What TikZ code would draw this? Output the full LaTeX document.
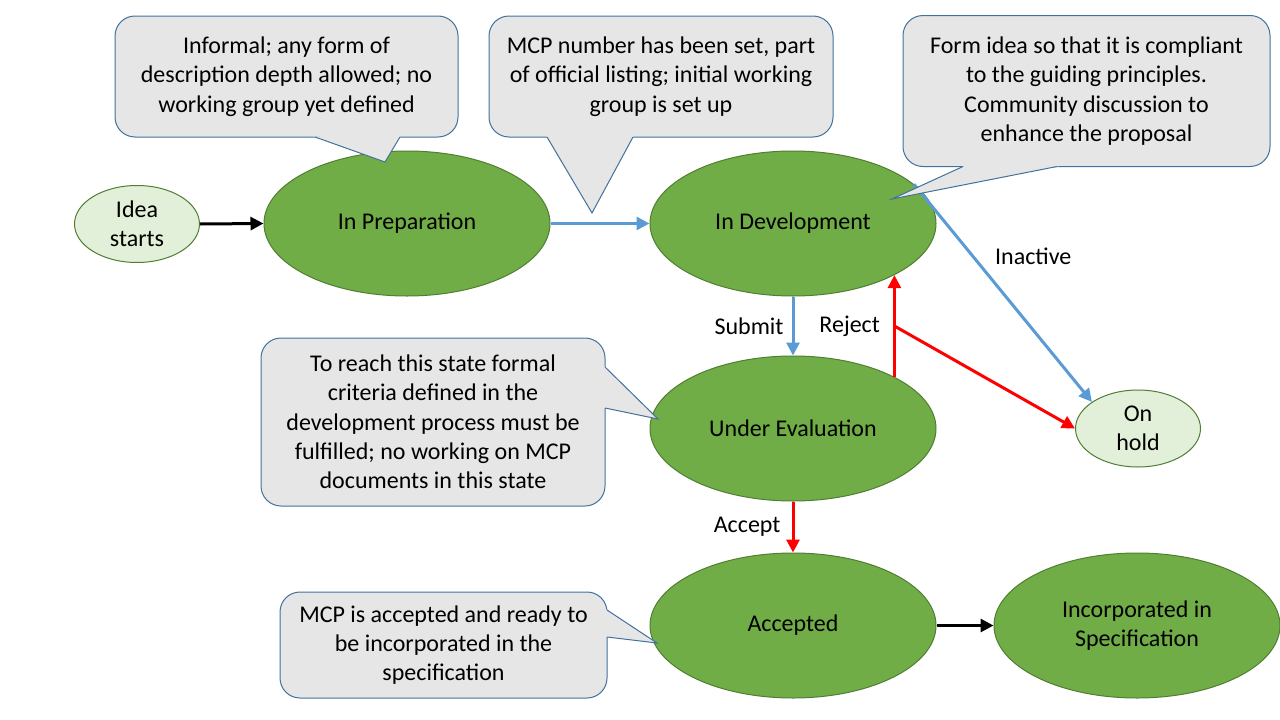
\documentclass[tikz,border=0pt]{standalone}
\usepackage{fontspec}
\setmainfont{Carlito}
\usetikzlibrary{shapes.geometric,arrows.meta,calc}

\definecolor{stategreen}{HTML}{70AD47}
\definecolor{stateline}{HTML}{507E32}
\definecolor{holdgreen}{HTML}{E2F0D9}
\definecolor{notegray}{HTML}{E7E6E6}
\definecolor{noteline}{HTML}{41719C}
\definecolor{flowblue}{HTML}{5B9BD5}
\definecolor{flowred}{HTML}{FF0000}

\tikzset{
    state/.style={ellipse, draw=stateline, fill=stategreen, line width=1pt,
            minimum width=286pt, minimum height=145pt, inner sep=0pt, align=center},
    smallstate/.style={state, fill=holdgreen, minimum width=125pt, minimum height=77pt},
    note/.style={rectangle, rounded corners=20pt, draw=noteline, fill=notegray,
            line width=1pt, inner sep=0pt, align=center},
    flow/.style={line width=3pt, -{Triangle[length=13pt,width=13pt]}},
    lbl/.style={inner sep=0pt},
}

\newcommand{\notetail}[3]{%
    \fill[notegray] ($#1!-2pt!#3$) -- #3 -- ($#2!-2pt!#3$) -- cycle;
    \draw[noteline, line width=1pt] #1 -- #3 -- #2;
}

\begin{document}
\begin{tikzpicture}[x=1pt, y=-1pt, font=\fontsize{24}{29.3}\selectfont]
            \useasboundingbox (0,0) rectangle (1280,720);

            % states
            \node[smallstate] (idea) at (137,224) {Idea\\starts};
            \node[state] (prep) at (407,223.5) {In Preparation};
            \node[state] (dev) at (793,223.5) {In Development};
            \node[state] (eval) at (793,428.5) {Under Evaluation};
            \node[state] (acc) at (793,625.5) {Accepted};
            \node[state] (spec) at (1137,625.5) {Incorporated in\\Specification};
            \node[smallstate] (hold) at (1138,428.5) {On\\hold};

            % transitions
            \draw[flow] (idea.east) -- (prep.west);
            \draw[flow, flowblue] (prep.east) -- (dev.west);
            \draw[flow, flowblue] (dev.south) -- (eval.north)
                node[lbl, midway, left=8pt, black] {Submit};
            \draw[flow, flowblue] (dev.18) -- (hold.150)
                node[lbl, pos=0.33, right=21pt, black] {Inactive};
            \coordinate (rj) at ($(eval.27.4)!0.5!(dev.-27.4)$);
            \draw[flow, flowred] (eval.27.4) -- (dev.-27.4)
                node[lbl, midway, left=13pt, black] {Reject};
            \draw[flow, flowred] (rj) -- (hold.west);
            \draw[flow, flowred] (eval.south) -- (acc.north)
                node[lbl, midway, left=11pt, black] {Accept};
            \draw[flow] (acc.east) -- (spec.west);

            % notes
            \node[note, minimum width=343pt, minimum height=121pt] (prepnote) at (286.5,76.5)
                {Informal; any form of\\description depth allowed; no\\working group yet defined};
            \notetail{(315,137)}{(400,137)}{(385,162)}
            \node[note, minimum width=344pt, minimum height=121pt] (devnote) at (661,76.5)
                {MCP number has been set, part\\of official listing; initial working\\group is set up};
            \notetail{(547,137)}{(633,137)}{(592,213)}
            \node[note, minimum width=367pt, minimum height=151pt] (formnote) at (1086.5,91)
                {Form idea so that it is compliant\\to the guiding principles.\\Community discussion to\\enhance the proposal};
            \notetail{(963,166.5)}{(1057,166.5)}{(892,199)}
            \node[note, minimum width=344pt, minimum height=168pt] (evalnote) at (433,422)
                {To reach this state formal\\criteria defined in the\\development process must be\\fulfilled; no working on MCP\\documents in this state};
            \notetail{(605,367)}{(605,408)}{(658,419)}
            \node[note, minimum width=327pt, minimum height=106pt] (accnote) at (443.5,645)
                {MCP is accepted and ready to\\be incorporated in the\\specification};
            \notetail{(607,610)}{(607,637)}{(657,643)}
        \end{tikzpicture}
\end{document}
